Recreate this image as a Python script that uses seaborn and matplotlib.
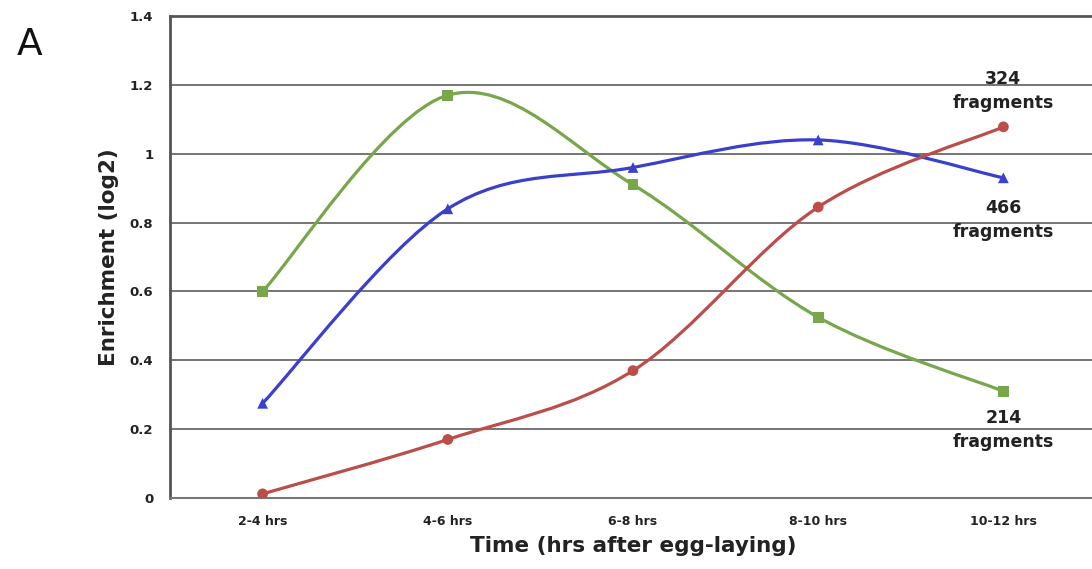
import numpy as np
import pandas as pd
import matplotlib
matplotlib.use("Agg")
import matplotlib.pyplot as plt
from matplotlib.path import Path
from matplotlib.patches import PathPatch
import seaborn as sns

# data
times = ["2-4 hrs", "4-6 hrs", "6-8 hrs", "8-10 hrs", "10-12 hrs"]
green_vals = [0.60, 1.17, 0.91, 0.525, 0.31]
blue_vals = [0.275, 0.84, 0.96, 1.04, 0.93]
red_vals = [0.012, 0.17, 0.37, 0.845, 1.078]
series_names = ["214 fragments", "466 fragments", "324 fragments"]
y_ticks = [0, 0.2, 0.4, 0.6, 0.8, 1, 1.2, 1.4]
y_tick_labels = ["0", "0.2", "0.4", "0.6", "0.8", "1", "1.2", "1.4"]

colors = {"214 fragments": "#78A64A", "466 fragments": "#3A3FCC", "324 fragments": "#BB4E48"}
markers = {"214 fragments": "s", "466 fragments": "^", "324 fragments": "o"}

rows = []
for name, vals in zip(series_names, [green_vals, blue_vals, red_vals]):
    for i, v in enumerate(vals):
        rows.append({"pos": i, "time": times[i], "value": v, "series": name})
df = pd.DataFrame(rows)

sns.set_style("white")
plt.rcParams["font.family"] = ["DejaVu Sans"]

fig = plt.figure(figsize=(10.92, 5.69), dpi=100)
ax = fig.add_axes([170 / 1092, 71 / 569, 926 / 1092, 482 / 569])


def smooth_path(xs, ys):
    # Excel-style smoothed line: cubic bezier through the points
    pts = np.column_stack([xs, ys])
    n = len(pts)
    verts = [pts[0]]
    codes = [Path.MOVETO]
    for i in range(n - 1):
        p_prev = pts[i - 1] if i > 0 else pts[i]
        p_next2 = pts[i + 2] if i + 2 < n else pts[i + 1]
        c1 = pts[i] + (pts[i + 1] - p_prev) / 6
        c2 = pts[i + 1] - (p_next2 - pts[i]) / 6
        verts += [c1, c2, pts[i + 1]]
        codes += [Path.CURVE4] * 3
    return Path(verts, codes)


for name in series_names:
    sub = df[df["series"] == name]
    patch = PathPatch(smooth_path(sub["pos"].values, sub["value"].values),
                      facecolor="none", edgecolor=colors[name], lw=2.3, zorder=3)
    ax.add_patch(patch)

sns.scatterplot(data=df, x="pos", y="value", hue="series", style="series",
                palette=colors, markers=markers, s=60, edgecolor="none",
                legend=False, ax=ax, zorder=4)

ax.set_xlim(-0.5, 4.5)
ax.set_ylim(0, 1.4)
ax.set_yticks(y_ticks)
ax.set_yticklabels(y_tick_labels, fontsize=9.5, fontweight="bold", color="#222222")
ax.set_xticks(range(len(times)))
ax.set_xticklabels(times, fontsize=9, fontweight="bold", color="#222222")
ax.set_xticks([0.5, 1.5, 2.5, 3.5], minor=True)
ax.tick_params(axis="x", which="major", length=0, pad=12)
ax.tick_params(axis="x", which="minor", length=4, width=1.2, color="#555555", direction="out")
ax.tick_params(axis="y", length=4, width=1.2, color="#555555", direction="out", pad=8)

for yv in y_ticks[1:-1]:
    ax.axhline(yv, color="#6a6a6a", lw=1.3, zorder=1)

for side in ["top", "left", "bottom"]:
    ax.spines[side].set_visible(True)
ax.spines["right"].set_visible(False)
ax.spines["top"].set_color("#555555")
ax.spines["top"].set_linewidth(2.0)
ax.spines["left"].set_color("#555555")
ax.spines["left"].set_linewidth(2.0)
ax.spines["bottom"].set_color("#777777")
ax.spines["bottom"].set_linewidth(1.5)

ax.set_xlabel("Time (hrs after egg-laying)", fontsize=15.5, fontweight="bold",
              color="#222222", labelpad=6)
ax.set_ylabel("Enrichment (log2)", fontsize=15.5, fontweight="bold",
              color="#222222", labelpad=8)

label_kw = dict(ha="center", va="center", fontsize=12.5, fontweight="bold",
                color="#222222", linespacing=1.45, zorder=5)
ax.text(4, 1.183, "324\nfragments", **label_kw)
ax.text(4, 0.808, "466\nfragments", **label_kw)
ax.text(4, 0.198, "214\nfragments", **label_kw)

fig.text(30 / 1092, 1 - 45 / 569, "A", fontsize=27, ha="center", va="center", color="#111111")

fig.savefig("out.png", dpi=100)
